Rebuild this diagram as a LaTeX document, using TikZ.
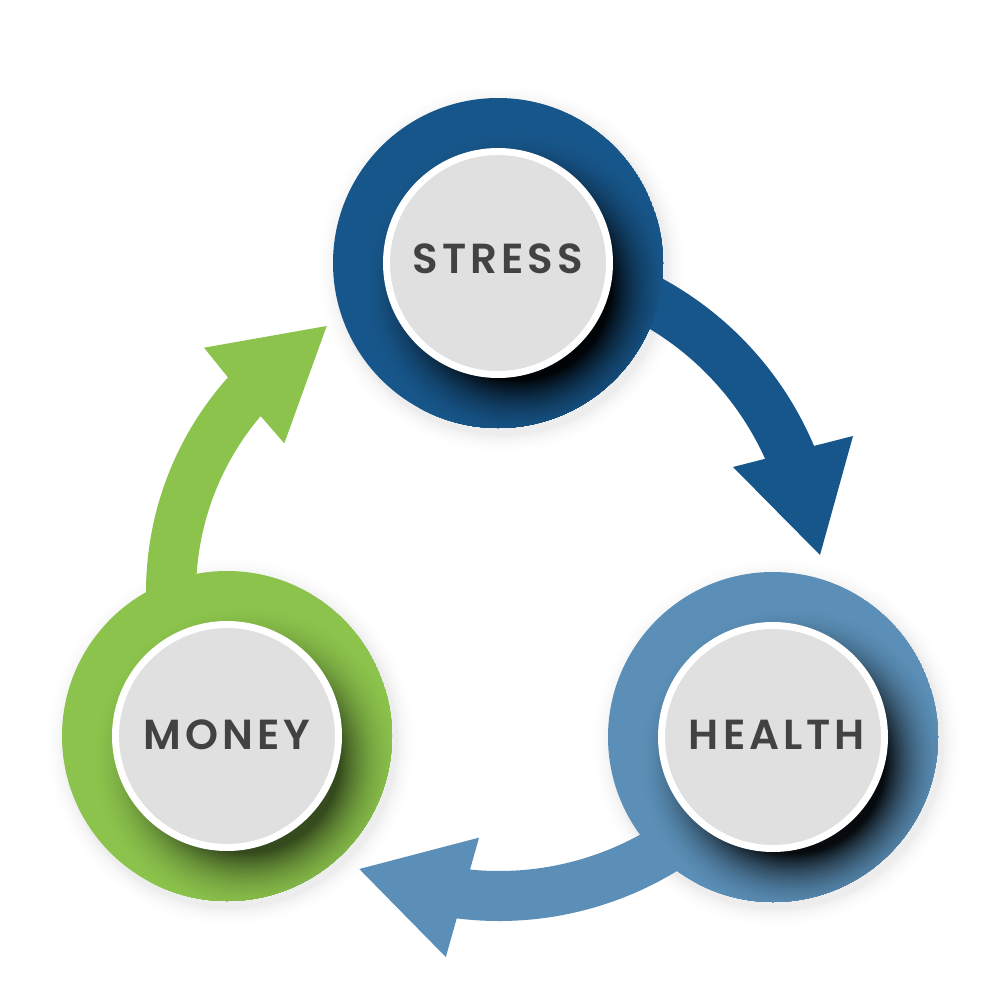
\documentclass[tikz,border=0pt]{standalone}
\usepackage{fontspec}
\newfontfamily\lblfont{Poppins SemiBold}
\usetikzlibrary{calc}
\definecolor{sblue}{HTML}{17568A}
\definecolor{hblue}{HTML}{5B8FB7}
\definecolor{mgreen}{HTML}{8BC34C}
\definecolor{discgray}{HTML}{E0E0E0}
\definecolor{txtgray}{HTML}{424244}

% faint halo outside a ring: x, y
\newcommand\ringhalo[2]{%
  \foreach \k in {14,13,...,1}{%
    \pgfmathsetmacro\hdark{8*(1-\k/14)^2}%
    \fill[black!\hdark!white] (#1+4,#2+6) circle[radius=165+1.5*\k];
  }}
% coloured ring with inner drop shadow: x, y, colour, max darkness
\newcommand\ringbody[4]{%
  \begin{scope}
    \clip (#1,#2) circle[radius=165];
    \fill[#3] (#1,#2) circle[radius=165];
    \foreach \k in {63,62,...,0}{%
      \pgfmathsetmacro\sdark{#4*(1-\k/64)^2}%
      \fill[black!\sdark!#3] (#1+20,#2+24) circle[radius=93+\k];
    }
  \end{scope}}
\newcommand\bluearrowpath{(499,237) arc[start angle=-90,end angle=-22.9,radius=342] -- (853,436) -- (820,555) -- (733,467) -- (765.1,458.8) arc[start angle=-24.3,end angle=-90,radius=292] -- cycle}

\begin{document}
\begin{tikzpicture}[x=1pt,y=-1pt,
  lbl/.style={font=\lblfont\fontsize{42}{42}\selectfont\addfontfeatures{LetterSpace=9.5}, text=txtgray, inner sep=0pt, anchor=base},
  disc/.style={circle, fill=discgray, draw=white, line width=7pt, minimum size=223pt, inner sep=0pt}]
  \path[use as bounding box] (0,0) rectangle (1001,1001);
  \fill[white] (0,0) rectangle (1001,1001);

  \coordinate (cS) at (498,263);
  \coordinate (cH) at (773,737);
  \coordinate (cM) at (227,736);

  % halos
  \ringhalo{498}{263}
  \ringhalo{773}{737}
  \ringhalo{227}{736}

  % arrows
  \fill[sblue] \bluearrowpath;
  \fill[hblue, rotate around={-120:(499,579)}] \bluearrowpath;
  \fill[mgreen] (150.9,647.9) arc[start angle=170,end angle=221.8,radius=322] -- (204,347.7) -- (326.7,326) -- (284.3,443.3) -- (260.6,416.1) arc[start angle=220.3,end angle=170,radius=272] -- cycle;

  % rings
  \ringbody{498}{263}{sblue}{95}
  \ringbody{773}{737}{hblue}{92}
  \ringbody{227}{736}{mgreen}{62}

  % discs
  \node[disc] (stress) at (cS) {};
  \node[disc] (health) at (cH) {};
  \node[disc] (money) at (cM) {};

  \node[lbl] (tstress) at (498,273) {STRESS};
  \node[lbl] (thealth) at (777,749) {HEALTH};
  \node[lbl] (tmoney) at (227,749) {MONEY};
\end{tikzpicture}
\end{document}
